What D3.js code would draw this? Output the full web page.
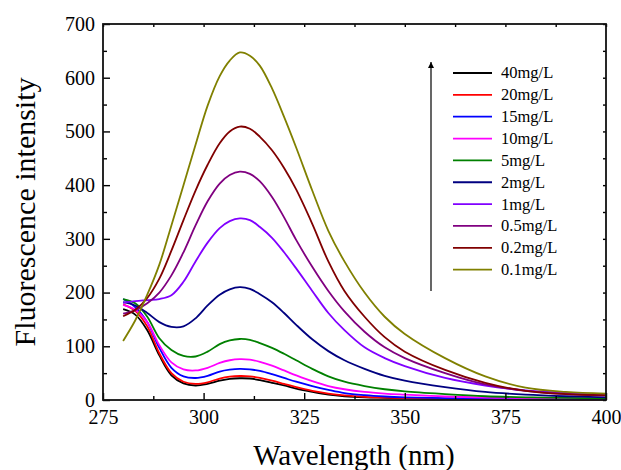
<!DOCTYPE html>
<html>
<head>
<meta charset="utf-8">
<script src="https://cdn.jsdelivr.net/npm/d3@7"></script>
<style>
  body { margin: 0; background: #fff; }
  svg { display: block; }
</style>
</head>
<body>
<div id="chart"></div>
<script>
// wavelength grid (nm) shared by every spectrum
var wavelengths = [280, 283, 286, 289, 292, 295, 298, 301, 304, 306.5, 309, 311.5, 314, 317, 320, 323, 327, 331, 335, 340, 345, 350, 360, 370, 380, 390, 400];

var labels = ["40mg/L", "20mg/L", "15mg/L", "10mg/L", "5mg/L", "2mg/L", "1mg/L", "0.5mg/L", "0.2mg/L", "0.1mg/L"];
var colors = ["#000000", "#ff0000", "#0000ff", "#ff00ff", "#008000", "#000080", "#8000ff", "#800080", "#800000", "#808000"];

// fluorescence intensity
var c40 = [169, 159, 130, 83, 46, 31, 27, 30, 36, 39.5, 40.5, 40, 37, 32, 27, 21, 15, 10, 7, 5, 4, 3, 2, 1.5, 1, 1, 1];
var c20 = [178, 166, 137, 87, 50, 34, 30, 33, 40, 43.5, 44.7, 44, 41, 36, 30, 24, 17, 12, 8.5, 6, 4.5, 3.5, 2.5, 2, 1.5, 1, 1];
var c15 = [188, 173, 145, 97, 60, 44, 41, 45, 53, 56.5, 58, 57, 54, 48, 41, 34, 26, 19, 13, 9, 6.5, 5, 3.5, 2.5, 2, 1.5, 1.5];
var c10 = [177, 168, 145, 102, 70, 57, 55, 60, 69, 74, 76, 75, 71, 64, 55, 46, 35, 26, 20, 15, 12, 10, 6.5, 4.5, 3.5, 3, 2.5];
var c5  = [188, 180, 155, 115, 93, 82, 81, 90, 104, 111, 113.6, 112, 106, 97, 86, 74, 58, 44, 34, 26, 20, 16, 11, 7, 5, 4, 3];
var c2  = [182, 176, 162, 145, 136, 137, 152, 176, 196, 206, 210, 207, 197, 182, 162, 140, 113, 91, 74, 58, 45, 36, 24, 15, 10, 7, 5];
var c1  = [181, 184, 186, 188, 195, 220, 258, 293, 320, 333, 338, 335, 322, 302, 275, 245, 203, 162, 130, 98, 78, 63, 41, 27, 18, 13, 9];
var c05 = [161, 167, 180, 200, 232, 275, 325, 370, 403, 419, 425, 421, 407, 378, 340, 298, 248, 203, 165, 127, 98, 78, 50, 29, 17, 11, 8];
var c02 = [156, 168, 190, 226, 278, 335, 390, 438, 478, 500, 509, 505, 490, 465, 432, 392, 328, 258, 203, 155, 117, 90, 56, 32, 17, 11, 9];
var c01 = [110, 148, 196, 252, 325, 400, 475, 548, 603, 632, 647, 641, 622, 580, 527, 470, 390, 315, 258, 200, 155, 123, 78, 44, 23, 15, 12];

var xTicks = [275, 300, 325, 350, 375, 400];
var yTicks = [0, 100, 200, 300, 400, 500, 600, 700];

var allSeries = [c40, c20, c15, c10, c5, c2, c1, c05, c02, c01];

var W = 621, H = 470;
var padL = 103, padR = 606, padT = 24, padB = 400;

var svg = d3.select("#chart").append("svg").attr("width", W).attr("height", H);

var x = d3.scaleLinear().domain([275, 400]).range([padL, padR]);
var y = d3.scaleLinear().domain([0, 700]).range([padB, padT]);

var font = "'Liberation Serif', 'Times New Roman', serif";

// curves
var line = d3.line()
  .x(function (d) { return x(d[0]); })
  .y(function (d) { return y(d[1]); })
  .curve(d3.curveCatmullRom.alpha(0.5));

allSeries.forEach(function (vals, i) {
  svg.append("path")
    .datum(wavelengths.map(function (w, k) { return [w, vals[k]]; }))
    .attr("fill", "none")
    .attr("stroke", colors[i])
    .attr("stroke-width", 1.8)
    .attr("d", line);
});

// axes, ticks pointing inward
var minorX = d3.range(287.5, 400, 25);
var minorY = d3.range(50, 700, 100);

function styleAxis(g) {
  g.select(".domain").remove();
  g.selectAll("line").attr("stroke", "#000").attr("stroke-width", 1.4);
  g.selectAll("text").attr("font-family", font).attr("font-size", "20px").attr("fill", "#000");
}

svg.append("g").attr("transform", "translate(0," + padB + ")")
  .call(d3.axisBottom(x).tickValues(xTicks).tickFormat(d3.format("d")).tickSizeInner(-7).tickSizeOuter(0).tickPadding(10))
  .call(styleAxis);
svg.append("g").attr("transform", "translate(0," + padB + ")")
  .call(d3.axisBottom(x).tickValues(minorX).tickFormat("").tickSizeInner(-4).tickSizeOuter(0))
  .call(styleAxis);

svg.append("g").attr("transform", "translate(" + padL + ",0)")
  .call(d3.axisLeft(y).tickValues(yTicks).tickFormat(d3.format("d")).tickSizeInner(-7).tickSizeOuter(0).tickPadding(8))
  .call(styleAxis);
svg.append("g").attr("transform", "translate(" + padL + ",0)")
  .call(d3.axisLeft(y).tickValues(minorY).tickFormat("").tickSizeInner(-4).tickSizeOuter(0))
  .call(styleAxis);

svg.append("g").attr("transform", "translate(0," + padT + ")")
  .call(d3.axisTop(x).tickValues(xTicks.concat(minorX)).tickFormat("").tickSizeInner(-3).tickSizeOuter(0))
  .call(styleAxis);
svg.append("g").attr("transform", "translate(" + padR + ",0)")
  .call(d3.axisRight(y).tickValues(yTicks.concat(minorY)).tickFormat("").tickSizeInner(-3).tickSizeOuter(0))
  .call(styleAxis);

// frame
svg.append("rect")
  .attr("x", padL).attr("y", padT)
  .attr("width", padR - padL).attr("height", padB - padT)
  .attr("fill", "none").attr("stroke", "#111").attr("stroke-width", 1.8);

// axis titles
svg.append("text")
  .attr("x", 354).attr("y", 465)
  .attr("text-anchor", "middle")
  .attr("font-family", font).attr("font-size", "29px")
  .text("Wavelength (nm)");

svg.append("text")
  .attr("transform", "translate(35," + ((padT + padB) / 2) + ") rotate(-90)")
  .attr("text-anchor", "middle")
  .attr("font-family", font).attr("font-size", "30px")
  .text("Fluorescence intensity");

// legend
var legX = 453, legY = 73, legStep = 21.85;
var leg = svg.append("g");
labels.forEach(function (name, i) {
  var yy = legY + i * legStep;
  leg.append("line")
    .attr("x1", legX).attr("x2", legX + 39)
    .attr("y1", yy).attr("y2", yy)
    .attr("stroke", colors[i]).attr("stroke-width", 1.8);
  leg.append("text")
    .attr("x", legX + 48).attr("y", yy)
    .attr("dy", "0.33em")
    .attr("font-family", font).attr("font-size", "16.5px")
    .text(name);
});

// arrow beside the legend
svg.append("defs").append("marker")
  .attr("id", "arrow")
  .attr("viewBox", "0 0 10 10")
  .attr("refX", 10).attr("refY", 5)
  .attr("markerUnits", "userSpaceOnUse")
  .attr("markerWidth", 10).attr("markerHeight", 6)
  .attr("orient", "auto")
  .append("path")
  .attr("d", "M 0 0 L 10 5 L 0 10 z");

svg.append("line")
  .attr("x1", 431).attr("y1", 291)
  .attr("x2", 431).attr("y2", 62)
  .attr("stroke", "#000").attr("stroke-width", 1.2)
  .attr("marker-end", "url(#arrow)");
</script>
</body>
</html>
